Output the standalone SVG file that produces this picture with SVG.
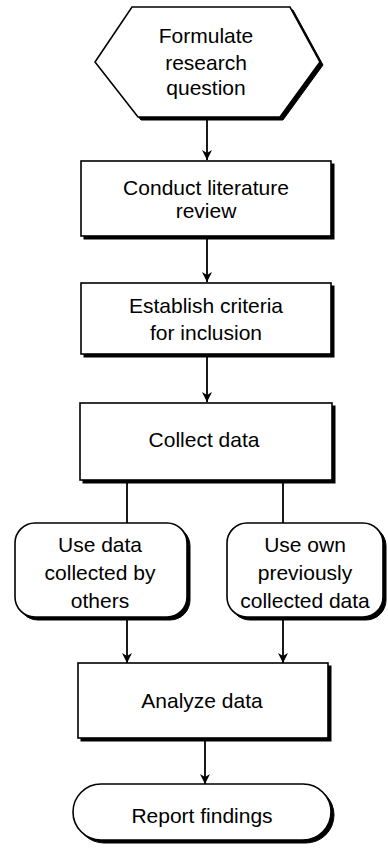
<svg xmlns="http://www.w3.org/2000/svg" width="388" height="854" viewBox="0 0 388 854">
<defs>
<style>
.sh{fill:#000;stroke:#000;stroke-width:1}
.bx{fill:#fff;stroke:#000;stroke-width:1.6}
.t{font-family:"Liberation Sans",Arial,Helvetica,sans-serif;font-size:21px;fill:#000;text-anchor:middle}
.c{stroke:#000;stroke-width:1.8;fill:none}
</style>
<marker id="ah" viewBox="0 0 10 12" refX="10" refY="6" markerWidth="10" markerHeight="12" markerUnits="userSpaceOnUse" orient="auto">
<path d="M0,1 L10,6 L0,11 L3,6 Z" fill="#000"/>
</marker>
</defs>
<rect width="388" height="854" fill="#fff"/>
<g id="connectors">
<line class="c" x1="207" y1="117" x2="207" y2="160" marker-end="url(#ah)"/>
<line class="c" x1="207" y1="239" x2="207" y2="282" marker-end="url(#ah)"/>
<line class="c" x1="207" y1="357" x2="207" y2="402" marker-end="url(#ah)"/>
<line class="c" x1="127" y1="481" x2="127" y2="523"/>
<line class="c" x1="283" y1="481" x2="283" y2="523"/>
<line class="c" x1="127" y1="619" x2="127" y2="663" marker-end="url(#ah)"/>
<line class="c" x1="283" y1="619" x2="283" y2="663" marker-end="url(#ah)"/>
<line class="c" x1="205" y1="739" x2="205" y2="784" marker-end="url(#ah)"/>
</g>
<g id="n1">
<polygon class="sh" points="135,10 293,10 323,65 283,120 141,120 98,65"/>
<polygon class="bx" points="132,7 290,7 320,62 280,117 138,117 95,62"/>
<text class="t" x="206" y="43">Formulate</text>
<text class="t" x="206" y="70">research</text>
<text class="t" x="206" y="95">question</text>
</g>
<g id="n2">
<rect class="sh" x="84" y="164" width="250" height="75"/>
<rect class="bx" x="81" y="161" width="250" height="75"/>
<text class="t" x="206" y="195">Conduct literature</text>
<text class="t" x="206" y="218">review</text>
</g>
<g id="n3">
<rect class="sh" x="84" y="286" width="250" height="71"/>
<rect class="bx" x="81" y="283" width="250" height="71"/>
<text class="t" x="206" y="313">Establish criteria</text>
<text class="t" x="206" y="340">for inclusion</text>
</g>
<g id="n4">
<rect class="sh" x="83" y="406" width="252" height="77"/>
<rect class="bx" x="80" y="403" width="252" height="77"/>
<text class="t" x="204" y="447">Collect data</text>
</g>
<g id="n5">
<rect class="sh" x="18" y="526" width="172" height="94" rx="20"/>
<rect class="bx" x="15" y="523" width="172" height="94" rx="20"/>
<text class="t" x="100" y="552">Use data</text>
<text class="t" x="100" y="580">collected by</text>
<text class="t" x="100" y="608">others</text>
</g>
<g id="n6">
<rect class="sh" x="230" y="526" width="156" height="94" rx="20"/>
<rect class="bx" x="227" y="523" width="156" height="94" rx="20"/>
<text class="t" x="305" y="552">Use own</text>
<text class="t" x="305" y="580">previously</text>
<text class="t" x="305" y="608">collected data</text>
</g>
<g id="n7">
<rect class="sh" x="81" y="666" width="250" height="75"/>
<rect class="bx" x="78" y="663" width="250" height="75"/>
<text class="t" x="202" y="708">Analyze data</text>
</g>
<g id="n8">
<rect class="sh" x="76" y="787" width="258" height="56" rx="28"/>
<rect class="bx" x="73" y="784" width="258" height="56" rx="28"/>
<text class="t" x="202" y="823">Report findings</text>
</g>
</svg>
